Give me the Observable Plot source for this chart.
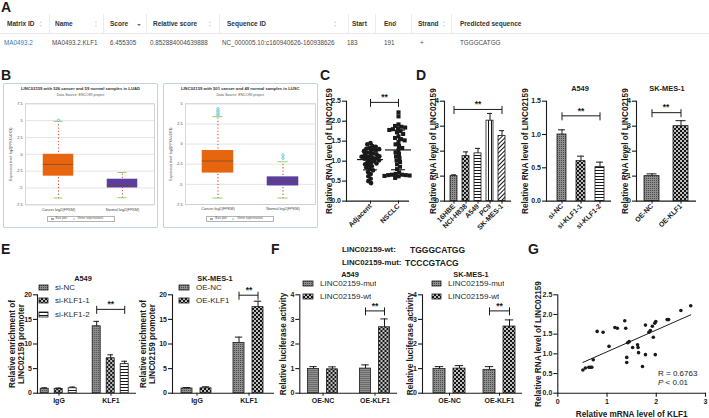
<!DOCTYPE html>
<html>
<head>
<meta charset="utf-8">
<script src="https://cdn.jsdelivr.net/npm/d3@7"></script>
<script src="https://cdn.jsdelivr.net/npm/@observablehq/plot@0.6"></script>
<style>
  html, body { margin: 0; padding: 0; background: #fff; }
  #fig { position: relative; width: 709px; height: 418px; overflow: hidden; background: #fff;
         font-family: "Liberation Sans", Arial, Helvetica, sans-serif; color: #1a1a1a; }
  .t { position: absolute; white-space: nowrap; line-height: 1; }
  .letter { font-weight: bold; font-size: 14px; }
  .frameB { position: absolute; border: 1px solid #c7d1e4; border-radius: 2px; box-sizing: border-box; box-shadow: 0 0 1px #dfe5f0; }
  .lg { position: absolute; }
  .lg > div { margin: 0 !important; font: 8px "Liberation Sans", Arial, sans-serif !important; color: #2b2b2b; }
  .lg [class$="-swatch"] { height: 13.3px; padding-bottom: 0 !important; display: flex; align-items: center; }
  .lg svg { margin-right: 7px !important; overflow: visible; }
  .lg svg rect { stroke: #1a1a1a; stroke-width: 0.8px; }
  .tri { position: absolute; width: 0; height: 0; }
</style>
</head>
<body>
<div id="fig"></div>
<script>
// ---------------- data ----------------
// A: JASPAR binding-site prediction
const jasparHeaders = ["Matrix ID", "Name", "Score", "Relative score", "Sequence ID", "Start", "End", "Strand", "Predicted sequence"];
const jasparValues = ["MA0493.2", "MA0493.2.KLF1", "6.455305", "0.852884004639888", "NC_000005.10:c160940626-160938626", "183", "191", "+", "TGGGCATGG"];

// B: ENCORI expression summaries, log2(FPKM+0.01)
const encoriGroups = ["Cancer log2(FPKM)", "Normal log2(FPKM)"];
const luadTicks = [-7.5, -5, -2.5, 0, 2.5, 5, 7.5];
const luadLow = [-6.5, -6.45];
const luadQ1 = [-3.25, -5.0];
const luadMedian = [-1.5, -4.55];
const luadQ3 = [0.0, -3.7];
const luadHigh = [4.9, -2.7];
const luadOutlierGroup = ["Cancer log2(FPKM)"];
const luadOutlierValue = [5.05];
const luscTicks = [-7.5, -5, -2.5, 0, 2.5, 5];
const luscLow = [-6.7, -6.7];
const luscQ1 = [-3.6, -5.2];
const luscMedian = [-2.1, -4.6];
const luscQ3 = [-0.8, -4.07];
const luscHigh = [3.4, -2.2];
const luscOutlierGroup = ["Cancer log2(FPKM)", "Cancer log2(FPKM)", "Cancer log2(FPKM)", "Cancer log2(FPKM)", "Cancer log2(FPKM)", "Normal log2(FPKM)", "Normal log2(FPKM)"];
const luscOutlierValue = [3.6, 3.8, 4.0, 4.2, 4.4, -1.4, -1.75];

// C: LINC02159 in paired tissue
const cohorts = ["Adjacent", "NSCLC"];
const adjacentLevels = [1.45, 1.42, 1.38, 1.36, 1.33, 1.31, 1.29, 1.27, 1.25, 1.23, 1.21, 1.19, 1.17, 1.15, 1.14, 1.12, 1.11, 1.10, 1.08, 1.07,
                        1.06, 1.04, 1.02, 1.00, 0.98, 0.96, 0.94, 0.92, 0.90, 0.87, 0.84, 0.80, 0.77, 0.73, 0.68, 0.62, 0.56, 0.50, 0.45, 1.30];
const nsclcLevels = [2.22, 2.12, 1.92, 1.88, 1.86, 1.84, 1.82, 1.80, 1.78, 1.75, 1.72, 1.68, 1.62, 1.58, 1.55, 1.52, 1.48, 1.42, 1.38, 1.33,
                     1.28, 1.22, 1.18, 1.12, 1.08, 1.02, 0.98, 0.92, 0.86, 0.80, 0.72, 0.68, 0.66, 0.66, 0.65, 0.65, 0.64, 0.63, 0.62, 0.58];

// D: LINC02159 in cell lines
const cellLines = ["16HBE", "NCI-H838", "A549", "PC9", "SK-MES-1"];
const cellLineMean = [1.0, 1.8, 1.91, 3.22, 2.61];
const cellLineSD = [0.05, 0.17, 0.2, 0.29, 0.21];
const knockdownArms = ["si-NC", "si-KLF1-1", "si-KLF1-2"];
const knockdownMean = [1.0, 0.6, 0.51];
const knockdownSD = [0.07, 0.075, 0.075];
const overexpArms = ["OE-NC", "OE-KLF1"];
const overexpMean = [1.0, 3.0];
const overexpSD = [0.09, 0.22];

// E: ChIP enrichment at the LINC02159 promoter
const chipTargets = ["IgG", "KLF1"];
const chipA549Mean = [[0.9, 13.6], [0.85, 7.1], [1.0, 5.9]];
const chipA549SD = [[0.2, 1.0], [0.2, 0.7], [0.25, 0.6]];
const chipSkmesMean = [[0.95, 10.2], [1.0, 17.5]];
const chipSkmesSD = [[0.2, 1.2], [0.3, 1.2]];

// F: dual-luciferase reporter
const reporters = ["LINC02159-mut", "LINC02159-wt"];
const lucA549Mean = [[0.98, 1.0], [0.97, 2.68]];
const lucA549SD = [[0.1, 0.15], [0.1, 0.34]];
const lucSkmesMean = [[0.98, 0.95], [1.0, 2.71]];
const lucSkmesSD = [[0.1, 0.13], [0.12, 0.27]];

// G: correlation in tissue
const klf1Ticks = [0, 1, 2, 3];
const klf1Levels = [0.51, 0.56, 0.63, 0.66, 0.69, 0.72, 0.80, 0.92, 1.04, 1.16, 1.21, 1.36, 1.38, 1.40, 1.40, 1.42, 1.45, 1.52, 1.62, 1.63,
                    1.64, 1.72, 1.78, 1.78, 1.85, 1.88, 1.92, 1.94, 1.97, 1.99, 1.98, 2.22, 2.25, 2.50, 2.70];
const lincLevels = [0.59, 0.64, 0.66, 0.66, 0.66, 0.85, 1.57, 1.55, 1.19, 1.67, 1.65, 1.84, 1.65, 0.91, 0.78, 1.28, 1.31, 1.16, 1.23, 1.16,
                    1.03, 0.68, 1.73, 0.98, 1.55, 1.59, 1.70, 1.42, 1.78, 1.82, 0.98, 1.87, 1.87, 2.10, 2.22];

// ---------------- helpers ----------------
const FONT = '"Liberation Sans", Arial, Helvetica, sans-serif';
const INK = "#1a1a1a";
const fig = document.getElementById("fig");
const fmt1 = d3.format(".1f");
const fmtInt = d3.format("d");

// bar fill patterns
const defs = d3.select(fig).append("svg").attr("width", 0).attr("height", 0)
  .style("position", "absolute").append("defs");
function pattern(id, w, h) {
  return defs.append("pattern").attr("id", id).attr("width", w).attr("height", h).attr("patternUnits", "userSpaceOnUse");
}
let p = pattern("pat-grey", 2, 2);
p.append("rect").attr("width", 2).attr("height", 2).attr("fill", "#8e8e8e");
p.append("rect").attr("width", 1).attr("height", 1).attr("fill", "#4a4a4a");
p = pattern("pat-check", 4, 4);
p.append("rect").attr("width", 4).attr("height", 4).attr("fill", "#161616");
p.append("rect").attr("x", 0.15).attr("y", 0.15).attr("width", 1.7).attr("height", 1.7).attr("fill", "#fff");
p.append("rect").attr("x", 2.15).attr("y", 2.15).attr("width", 1.7).attr("height", 1.7).attr("fill", "#fff");
p = pattern("pat-hs", 3, 3);
p.append("rect").attr("width", 3).attr("height", 3).attr("fill", "#fff");
p.append("rect").attr("width", 3).attr("height", 1).attr("fill", "#161616");
p = pattern("pat-vs", 3, 3);
p.append("rect").attr("width", 3).attr("height", 3).attr("fill", "#fff");
p.append("rect").attr("width", 1).attr("height", 3).attr("fill", "#161616");
p = pattern("pat-dg", 3, 3).attr("patternTransform", "rotate(45)");
p.append("rect").attr("width", 3).attr("height", 3).attr("fill", "#fff");
p.append("rect").attr("width", 1).attr("height", 3).attr("fill", "#161616");
const PAT = {grey: "url(#pat-grey)", check: "url(#pat-check)", hs: "url(#pat-hs)", vs: "url(#pat-vs)", dg: "url(#pat-dg)"};

function chart(box, frame, options) {
  const [left, top, width, height] = box;
  const [x0, y0, x1, y1] = frame;
  const {style, ...rest} = options;
  const svg = Plot.plot({
    width, height,
    marginLeft: x0 - left, marginRight: left + width - x1,
    marginTop: y0 - top, marginBottom: top + height - y1,
    style: Object.assign({fontFamily: FONT, fontSize: "7px", fontWeight: "bold", color: INK,
                          background: "transparent", overflow: "visible"}, style),
    ...rest
  });
  svg.style.position = "absolute";
  svg.style.left = left + "px";
  svg.style.top = top + "px";
  svg.style.maxWidth = "none";
  fig.appendChild(svg);
  return svg;
}

function note(html, x, y, {size = 8, weight = "bold", anchor = "middle", color = INK, style = ""} = {}) {
  const el = document.createElement("div");
  el.className = "t";
  el.innerHTML = html;
  const tx = anchor === "middle" ? "-50%" : anchor === "end" ? "-100%" : "0";
  el.style.cssText += `left:${x}px;top:${y}px;font-size:${size}px;font-weight:${weight};color:${color};transform:translate(${tx},-50%);${style}`;
  fig.appendChild(el);
  return el;
}

function letter(ch, x, y) {
  const el = document.createElement("div");
  el.className = "t letter";
  el.textContent = ch;
  el.style.left = x + "px";
  el.style.top = y + "px";
  fig.appendChild(el);
}

function yAxis(ticks, fmt) {
  return [
    Plot.axisY(ticks, {anchor: "left", tickFormat: fmt, tickSize: 4, tickPadding: 1.5, label: null, strokeWidth: 1.1}),
    Plot.frame({anchor: "left", stroke: INK, strokeWidth: 1.1}),
    Plot.frame({anchor: "bottom", stroke: INK, strokeWidth: 1.1})
  ];
}

function yTitle(text, dx, size = 8.2, weight = "bold") {
  return Plot.text([text], {frameAnchor: "left", text: d => d, rotate: -90, dx,
    textAnchor: "middle", lineAnchor: "middle", fontSize: size, fontWeight: weight, lineHeight: 1.1});
}

function errorMarks(rows, capInset, fx) {
  const f = fx ? {fx} : {};
  return [
    Plot.ruleX(rows, {x: "cat", y1: "mean", y2: "top", stroke: INK, strokeWidth: 1, ...f}),
    Plot.tickY(rows, {x: "cat", y: "top", stroke: INK, strokeWidth: 1, insetLeft: capInset, insetRight: capInset, ...f})
  ];
}

// significance bracket between two categories, lifted dy pixels above the level
function sigBracket(a, b, level, dy, {fx, mid, midDx = 0} = {}) {
  const f = fx ? {fx: "fx"} : {};
  const row = [{a, b, level, fx}];
  return [
    Plot.link(row, {x1: "a", x2: "b", y1: "level", y2: "level", dy, stroke: INK, strokeWidth: 1, ...f}),
    Plot.ruleX([{x: a, level, fx}, {x: b, level, fx}], {x: "x", y1: "level", y2: "level",
      insetTop: -3, insetBottom: -5, dy, stroke: INK, strokeWidth: 1, ...f}),
    Plot.text(row, {x: mid ? () => mid : undefined, y: "level", text: () => "**", dy: dy - 5, dx: midDx,
      fontSize: 8.5, fontWeight: "bold", ...f})
  ];
}

const simpleRows = (cats, mean, sd) => cats.map((cat, i) => ({cat, mean: mean[i], top: mean[i] + sd[i]}));
const groupedRows = (groups, series, means, sds) =>
  series.flatMap((s, j) => groups.map((g, i) => ({group: g, cat: s, mean: means[j][i], top: means[j][i] + sds[j][i]})));

function legend(series, fills, x, y, swatchWidth) {
  const node = Plot.legend({color: {type: "ordinal", domain: series, range: fills}, columns: 1,
    swatchWidth, swatchHeight: 5});
  const wrap = document.createElement("div");
  wrap.className = "lg";
  wrap.style.left = x + "px";
  wrap.style.top = y + "px";
  wrap.appendChild(node);
  fig.appendChild(wrap);
}

// ---------------- A: table ----------------
letter("A", 1, 0);
const headerX = [7, 55, 110, 153, 227, 352, 384, 418, 460];
const valueX = [4, 52, 110, 150, 222, 347, 384, 420, 460];
jasparHeaders.forEach((h, i) => note(h, headerX[i], 24, {size: 6.5, anchor: "start", color: "#333"}));
jasparValues.forEach((v, i) => note(v, valueX[i], 43, {size: 6.3, weight: "normal", anchor: "start",
  color: i === 0 ? "#3a78b5" : "#4a4a4a"}));
[49, 103, 146, 219, 348, 375, 411, 451].forEach(x => {
  const s = document.createElement("div");
  s.style.cssText = `position:absolute;left:${x}px;top:14px;width:1px;height:19px;background:#ececec;`;
  fig.appendChild(s);
});
const rowLine = document.createElement("div");
rowLine.style.cssText = "position:absolute;left:0;top:33px;width:709px;height:1px;background:#e9e9e9;";
fig.appendChild(rowLine);
[42, 97, 211, 336, 397, 445].forEach(x => {
  const up = document.createElement("div");
  up.className = "tri";
  up.style.cssText += `left:${x - 1.6}px;top:21px;border-left:1.6px solid transparent;border-right:1.6px solid transparent;border-bottom:2.2px solid #d2d2d2;`;
  const dn = document.createElement("div");
  dn.className = "tri";
  dn.style.cssText += `left:${x - 1.6}px;top:24.6px;border-left:1.6px solid transparent;border-right:1.6px solid transparent;border-top:2.2px solid #d2d2d2;`;
  fig.appendChild(up); fig.appendChild(dn);
});
const sortDown = document.createElement("div");
sortDown.className = "tri";
sortDown.style.cssText += "left:137px;top:23.5px;border-left:2.2px solid transparent;border-right:2.2px solid transparent;border-top:2.8px solid #5a6cc4;";
fig.appendChild(sortDown);

// ---------------- B: ENCORI box plots ----------------
letter("B", 1, 68);
function encoriPanel(outer, box, frame, title, ticks, low, q1, median, q3, high, outGroup, outValue, yDx) {
  const border = document.createElement("div");
  border.className = "frameB";
  border.style.left = outer[0] + "px"; border.style.top = outer[1] + "px";
  border.style.width = outer[2] + "px"; border.style.height = outer[3] + "px";
  fig.appendChild(border);
  const cx = outer[0] + outer[2] / 2;
  note(title, cx, 88.5, {size: 4.2, color: "#333"});
  note("Data Source: ENCORI project", cx, 95.5, {size: 3.6, weight: "normal", color: "#555"});
  const rows = encoriGroups.map((g, i) => ({g, low: low[i], q1: q1[i], median: median[i], q3: q3[i], high: high[i]}));
  const outs = outGroup.map((g, i) => ({g, v: outValue[i]}));
  chart(box, frame, {
    style: {fontSize: "3.8px", fontWeight: "normal", color: "#444"},
    x: {type: "band", domain: encoriGroups, padding: 0, axis: null, label: null},
    y: {domain: [ticks[0], ticks[ticks.length - 1]], axis: null, label: null},
    color: {domain: encoriGroups, range: ["#e8650f", "#5b3c9f"]},
    marks: [
      Plot.gridY(ticks, {stroke: "#d4d4d4", strokeOpacity: 1, strokeWidth: 0.6}),
      Plot.frame({stroke: "#cdcdcd", strokeWidth: 0.8}),
      Plot.axisY(ticks, {anchor: "left", tickSize: 0, tickPadding: 3, tickFormat: d => String(d), label: null}),
      Plot.axisX({anchor: "bottom", tickSize: 0, tickPadding: 3, label: null}),
      Plot.ruleX(rows, {x: "g", y1: "low", y2: "high", stroke: "#d8452a", strokeWidth: 1.3,
        strokeDasharray: "0.01 3.3", strokeLinecap: "round"}),
      Plot.barY(rows, {x: "g", y1: "q1", y2: "q3", fill: "g", insetLeft: 16.75, insetRight: 16.75}),
      Plot.tickY(rows, {x: "g", y: "median", stroke: "#6b4a33", strokeWidth: 0.7, insetLeft: 16.75, insetRight: 16.75}),
      Plot.tickY(rows, {x: "g", y: "low", stroke: "#86c760", strokeWidth: 0.9, insetLeft: 27.5, insetRight: 27.5}),
      Plot.tickY(rows, {x: "g", y: "high", stroke: "#86c760", strokeWidth: 0.9, insetLeft: 27.5, insetRight: 27.5}),
      Plot.dot(outs, {x: "g", y: "v", r: 1.3, fill: "#c3eef3", stroke: "#5cbfcf", strokeWidth: 0.6}),
      yTitle("Expression level: log2(FPKM+0.01)", yDx, 3.4, "normal")
    ]
  });
  // legend box under the plot
  const lgx = outer[0] + outer[2] / 2 - 34;
  const lb = document.createElement("div");
  lb.style.cssText = `position:absolute;left:${lgx}px;top:216.3px;width:68px;height:5.6px;border:0.6px solid #b4b4b4;box-sizing:border-box;background:#fff;`;
  fig.appendChild(lb);
  const sq = document.createElement("div");
  sq.style.cssText = `position:absolute;left:${lgx + 4}px;top:217.8px;width:3px;height:2.6px;background:#ddd;border:0.4px solid #aaa;box-sizing:border-box;`;
  fig.appendChild(sq);
  note("Box plot", lgx + 9, 219.1, {size: 3.2, weight: "normal", anchor: "start", color: "#555"});
  const dt = document.createElement("div");
  dt.style.cssText = `position:absolute;left:${lgx + 26}px;top:218.1px;width:2px;height:2px;border-radius:50%;background:#9fdce6;`;
  fig.appendChild(dt);
  note("Gene expressions", lgx + 31, 219.1, {size: 3.2, weight: "normal", anchor: "start", color: "#555"});
}
encoriPanel([3, 83, 155, 145], [3, 84, 155, 144], [25, 103.3, 154, 204.3],
  "LINC02159 with 526 cancer and 59 normal samples in LUAD", luadTicks,
  luadLow, luadQ1, luadMedian, luadQ3, luadHigh, luadOutlierGroup, luadOutlierValue, -15);
encoriPanel([162.5, 83, 155.5, 145], [163, 84, 155, 144], [185, 103.3, 315, 204],
  "LINC02159 with 501 cancer and 49 normal samples in LUSC", luscTicks,
  luscLow, luscQ1, luscMedian, luscQ3, luscHigh, luscOutlierGroup, luscOutlierValue, -15);

// ---------------- C: tissue scatter ----------------
letter("C", 320, 68);
const cohortValues = [adjacentLevels, nsclcLevels];
const cohortStats = cohorts.map((g, i) => {
  const m = d3.mean(cohortValues[i]), s = d3.deviation(cohortValues[i]);
  return {group: g, mean: m, lo: m - s, hi: m + s};
});
chart([316, 86, 100, 142], [346, 100.7, 408, 200.6], {
  x: {type: "point", domain: cohorts, padding: 0, insetLeft: 24, insetRight: 10, axis: null, label: null},
  y: {domain: [0, 2.5], axis: null, label: null},
  marks: [
    ...yAxis([0, 0.5, 1, 1.5, 2, 2.5], fmt1),
    yTitle("Relative RNA level of LINC02159", 329 - 346),
    ...sigBracket(cohorts[0], cohorts[1], d3.max(nsclcLevels), -10, {midDx: 7})
  ]
});
// points are packed with a smaller collision radius so the swarm overlaps like the printed dots
chart([316, 86, 100, 142], [356, 100.7, 412, 200.6], {
  fx: {domain: cohorts, padding: 0, axis: null, label: null},
  y: {domain: [0, 2.5], axis: null, label: null},
  marks: [
    Plot.dot(adjacentLevels, Plot.dodgeX({anchor: "middle", padding: 0, r: 1.7}, {fx: () => "Adjacent", y: d => d, r: 2.3, fill: INK, symbol: "circle"})),
    Plot.dot(nsclcLevels, Plot.dodgeX({anchor: "middle", padding: 0, r: 1.9}, {fx: () => "NSCLC", y: d => d, r: 2.3, fill: INK, symbol: "square"})),
    Plot.ruleX(cohortStats, {x: null, fx: "group", y1: "lo", y2: "hi", stroke: INK, strokeWidth: 1}),
    Plot.tickY(cohortStats, {fx: "group", y: "mean", insetLeft: 1, insetRight: 1, stroke: INK, strokeWidth: 1.2}),
    Plot.tickY(cohortStats, {fx: "group", y: "lo", insetLeft: 7, insetRight: 7, stroke: INK, strokeWidth: 1.1}),
    Plot.tickY(cohortStats, {fx: "group", y: "hi", insetLeft: 7, insetRight: 7, stroke: INK, strokeWidth: 1.1}),
    Plot.axisFx({anchor: "bottom", tickRotate: -45, tickSize: 3, tickPadding: 1, label: null})
  ]
});

// ---------------- D: cell-line bar charts ----------------
letter("D", 416, 68);
const d1Rows = simpleRows(cellLines, cellLineMean, cellLineSD);
chart([416, 86, 99, 142], [444, 100.7, 510, 200.6], {
  x: {type: "band", domain: cellLines, paddingInner: 0.41, paddingOuter: 0.205, insetLeft: 2.8, insetRight: 1.1, axis: null, label: null},
  y: {domain: [0, 4], axis: null, label: null},
  color: {domain: cellLines, range: [PAT.grey, PAT.check, PAT.hs, PAT.vs, PAT.dg]},
  marks: [
    Plot.barY(d1Rows, {x: "cat", y: "mean", fill: "cat", stroke: INK, strokeWidth: 0.8}),
    ...errorMarks(d1Rows, 1),
    ...yAxis([0, 1, 2, 3, 4], fmtInt),
    Plot.axisX({anchor: "bottom", tickRotate: -45, tickSize: 3, tickPadding: 1, label: null}),
    yTitle("Relative RNA level of LINC02159", 433 - 444),
    ...sigBracket(cellLines[0], cellLines[4], d3.max(d1Rows, d => d.top), -4, {mid: cellLines[2]})
  ]
});

note("A549", 580, 88.5, {size: 7.4});
const d2Rows = simpleRows(knockdownArms, knockdownMean, knockdownSD);
chart([513, 80, 100, 148], [546, 100.7, 610, 200.6], {
  x: {type: "band", domain: knockdownArms, paddingInner: 0.55, paddingOuter: 0.275, insetLeft: 5.25, insetRight: 0.25, axis: null, label: null},
  y: {domain: [0, 1.5], axis: null, label: null},
  color: {domain: knockdownArms, range: [PAT.grey, PAT.check, PAT.hs]},
  marks: [
    Plot.barY(d2Rows, {x: "cat", y: "mean", fill: "cat", stroke: INK, strokeWidth: 0.8}),
    ...errorMarks(d2Rows, 1),
    ...yAxis([0, 0.5, 1, 1.5], fmt1),
    Plot.axisX({anchor: "bottom", tickRotate: -45, tickSize: 3, tickPadding: 1, label: null}),
    yTitle("Relative RNA level of LINC02159", 525 - 546),
    ...sigBracket(knockdownArms[0], knockdownArms[2], d3.max(d2Rows, d => d.top), -14, {mid: knockdownArms[1]})
  ]
});

note("SK-MES-1", 667, 88.5, {size: 7.4});
const d3Rows = simpleRows(overexpArms, overexpMean, overexpSD);
chart([612, 80, 95, 148], [636, 100.7, 695, 200.6], {
  x: {type: "band", domain: overexpArms, paddingInner: 0.49, paddingOuter: 0.245, axis: null, label: null},
  y: {domain: [0, 4], axis: null, label: null},
  color: {domain: overexpArms, range: [PAT.grey, PAT.check]},
  marks: [
    Plot.barY(d3Rows, {x: "cat", y: "mean", fill: "cat", stroke: INK, strokeWidth: 0.8}),
    ...errorMarks(d3Rows, 2.5),
    ...yAxis([0, 1, 2, 3, 4], fmtInt),
    Plot.axisX({anchor: "bottom", tickRotate: -45, tickSize: 3, tickPadding: 1, label: null}),
    yTitle("Relative RNA level of LINC02159", 625 - 636),
    ...sigBracket(overexpArms[0], overexpArms[1], d3.max(d3Rows, d => d.top), -8)
  ]
});

// ---------------- E: ChIP grouped bars ----------------
letter("E", 1, 242);
function groupedPanel({box, axisFrame, dataFrame, groups, series, fills, rows, yDomain, yTicks, yFmt, title, titleX, titleY,
                       ylabel, ylabelX, fxPad, capInset, bracket}) {
  note(title, titleX, titleY, {size: 7.4});
  chart(box, axisFrame, {
    y: {domain: yDomain, axis: null, label: null},
    marks: [...yAxis(yTicks, yFmt), yTitle(ylabel, ylabelX - axisFrame[0])]
  });
  chart(box, dataFrame, {
    fx: {domain: groups, paddingInner: fxPad, paddingOuter: 0, axis: null, label: null},
    x: {type: "band", domain: series, paddingInner: 0.4, paddingOuter: 0.2, axis: null, label: null},
    y: {domain: yDomain, axis: null, label: null},
    color: {domain: series, range: fills},
    marks: [
      Plot.barY(rows, {fx: "group", x: "cat", y: "mean", fill: "cat", stroke: INK, strokeWidth: 0.8}),
      ...errorMarks(rows, capInset, "group"),
      Plot.axisFx({anchor: "bottom", tickSize: 3, tickPadding: 2, label: null}),
      ...sigBracket(bracket.a, bracket.b, d3.max(rows.filter(r => r.group === bracket.fx), d => d.top), bracket.dy,
        {fx: bracket.fx, mid: bracket.mid})
    ]
  });
}

groupedPanel({
  box: [0, 270, 140, 148], axisFrame: [37, 294.3, 135, 392.7], dataFrame: [36.8, 294.3, 132.8, 392.7],
  groups: chipTargets, series: knockdownArms, fills: [PAT.grey, PAT.check, PAT.hs],
  rows: groupedRows(chipTargets, knockdownArms, chipA549Mean, chipA549SD),
  yDomain: [0, 20], yTicks: [0, 5, 10, 15, 20], yFmt: fmtInt,
  title: "A549", titleX: 83, titleY: 278.8,
  ylabel: "Relative enrichment of\nLINC02159 promoter", ylabelX: 16.5, fxPad: 0.18, capInset: 1.2,
  bracket: {fx: "KLF1", a: "si-NC", b: "si-KLF1-2", mid: "si-KLF1-1", dy: -12}
});
legend(knockdownArms, [PAT.grey, PAT.check, PAT.hs], 39, 281, 9);

groupedPanel({
  box: [135, 270, 142, 148], axisFrame: [172, 294.3, 273, 392.7], dataFrame: [176, 294.3, 269, 392.7],
  groups: chipTargets, series: overexpArms, fills: [PAT.grey, PAT.check],
  rows: groupedRows(chipTargets, overexpArms, chipSkmesMean, chipSkmesSD),
  yDomain: [0, 20], yTicks: [0, 5, 10, 15, 20], yFmt: fmtInt,
  title: "SK-MES-1", titleX: 215, titleY: 278.8,
  ylabel: "Relative enrichment of\nLINC02159 promoter", ylabelX: 147.5, fxPad: 0.245, capInset: 1.8,
  bracket: {fx: "KLF1", a: "OE-NC", b: "OE-KLF1", dy: -6}
});
legend(overexpArms, [PAT.grey, PAT.check], 179, 281, 10);

// ---------------- F: luciferase grouped bars ----------------
letter("F", 271, 242);
note("LINC02159-wt:", 342, 249.5, {size: 7.8, anchor: "start"});
note("TGGGCATGG", 410, 249.5, {size: 8.5, anchor: "start"});
note("LINC02159-mut:", 342, 262.5, {size: 7.8, anchor: "start"});
note("TCCCGTACG", 405, 262.5, {size: 8.5, anchor: "start"});

groupedPanel({
  box: [270, 270, 130, 148], axisFrame: [299.3, 294.3, 396, 392.7], dataFrame: [302.5, 294.3, 394.5, 392.7],
  groups: overexpArms, series: reporters, fills: [PAT.grey, PAT.check],
  rows: groupedRows(overexpArms, reporters, lucA549Mean, lucA549SD),
  yDomain: [0, 4], yTicks: [0, 1, 2, 3, 4], yFmt: fmtInt,
  title: "A549", titleX: 350, titleY: 274.5,
  ylabel: "Relative luciferase activity", ylabelX: 282.7, fxPad: 0.251, capInset: 1.8,
  bracket: {fx: "OE-KLF1", a: "LINC02159-mut", b: "LINC02159-wt", dy: -8}
});
legend(reporters, [PAT.grey, PAT.check], 303, 276.6, 10);

groupedPanel({
  box: [400, 270, 125, 148], axisFrame: [422, 294.3, 521, 392.7], dataFrame: [429, 294.3, 519, 392.7],
  groups: overexpArms, series: reporters, fills: [PAT.grey, PAT.check],
  rows: groupedRows(overexpArms, reporters, lucSkmesMean, lucSkmesSD),
  yDomain: [0, 4], yTicks: [0, 1, 2, 3, 4], yFmt: fmtInt,
  title: "SK-MES-1", titleX: 471, titleY: 274.5,
  ylabel: "Relative luciferase activity", ylabelX: 410, fxPad: 0.2, capInset: 1.8,
  bracket: {fx: "OE-KLF1", a: "LINC02159-mut", b: "LINC02159-wt", dy: -9}
});
legend(reporters, [PAT.grey, PAT.check], 432, 276.6, 9);

// ---------------- G: correlation ----------------
letter("G", 528, 242);
const pairs = klf1Levels.map((k, i) => ({klf1: k, linc: lincLevels[i]}));
chart([525, 282, 184, 136], [557.3, 294.3, 705, 392.7], {
  x: {domain: [0, 3], axis: null, label: null},
  y: {domain: [0, 2.5], axis: null, label: null},
  marks: [
    ...yAxis([0, 0.5, 1, 1.5, 2, 2.5], fmt1),
    Plot.axisX(klf1Ticks, {anchor: "bottom", tickSize: 4, tickPadding: 2, label: null, strokeWidth: 1.1, fill: INK}),
    Plot.linearRegressionY(pairs, {x: "klf1", y: "linc", ci: 0, stroke: INK, strokeWidth: 1}),
    Plot.dot(pairs, {x: "klf1", y: "linc", r: 1.8, fill: INK}),
    yTitle("Relative RNA level of LINC02159", 537.5 - 557.3),
    Plot.text(["Relative mRNA level of KLF1"], {frameAnchor: "bottom", text: d => d, dy: 21.3, lineAnchor: "middle", fontSize: 8.2, fontWeight: "bold"})
  ]
});
note("R = 0.6763", 658, 374.3, {size: 8, weight: "normal", anchor: "start"});
note("<i>P</i> &lt; 0.01", 658, 383.3, {size: 8, weight: "normal", anchor: "start"});
</script>
</body>
</html>
